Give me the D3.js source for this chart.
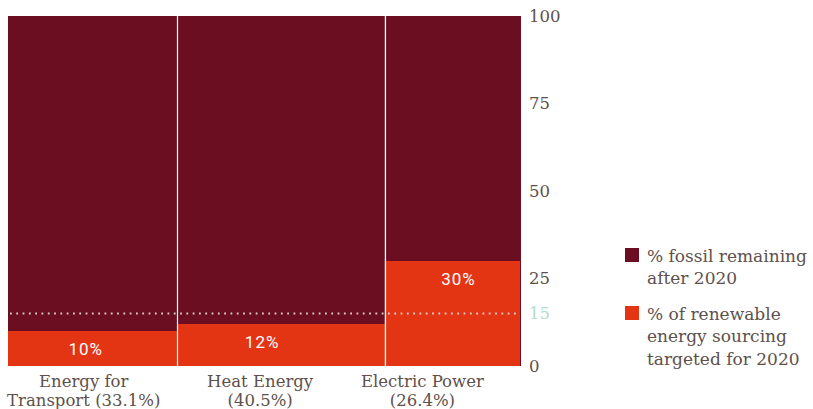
<!DOCTYPE html>
<html><head><meta charset="utf-8">
<script src="https://cdn.jsdelivr.net/npm/d3@7"></script>
<style>
html,body{margin:0;padding:0;background:#fff;}
svg{display:block;}
</style></head>
<body>
<script>
// ---- data ----
const categories = ["Energy for|Transport (33.1%)", "Heat Energy|(40.5%)", "Electric Power|(26.4%)"];
const shares = [33.1, 40.5, 26.4];          // column widths (% of total energy)
const renewable = [10, 12, 30];             // % renewable targeted for 2020
const fossil = [90, 88, 70];                // % fossil remaining after 2020
const valueLabels = ["10%", "12%", "30%"];
const yTicks = [0, 25, 50, 75, 100];
const targetLine = 15;
const legendLabels = [["% fossil remaining", "after 2020"], ["% of renewable", "energy sourcing", "targeted for 2020"]];

// ---- style / layout ----
const W = 813, H = 409;
const mLeft = 8, mRight = 520, mTop = 16, mBottom = 366;
const cDark = "#6b0e21", cOrange = "#e33414", cText = "#5e504b", cTeal = "#b2dcd0";
const catShift = [-9, -21, -30];
const valShift = [-7, -19, 6];
const serif = "'DejaVu Serif', serif";

const svg = d3.select("body").append("svg").attr("width", W).attr("height", H);

const x = d3.scaleLinear().domain([0, d3.sum(shares)]).range([mLeft, mRight]);
const y = d3.scaleLinear().domain([0, 100]).range([mBottom, mTop]);

const cum = [];
shares.reduce((a, s, i) => { cum[i] = a; return a + s; }, 0);
const cols = shares.map((s, i) => ({ x0: cum[i], x1: cum[i] + s, ren: renewable[i], fos: fossil[i], lab: valueLabels[i], cat: categories[i], i }));

const g = svg.append("g");
g.selectAll("rect.fos").data(cols).enter().append("rect")
  .attr("x", d => x(d.x0)).attr("width", d => x(d.x1) - x(d.x0))
  .attr("y", d => y(d.ren + d.fos)).attr("height", d => y(d.ren) - y(d.ren + d.fos))
  .attr("fill", cDark);
g.selectAll("rect.ren").data(cols).enter().append("rect")
  .attr("x", d => x(d.x0)).attr("width", d => x(d.x1) - x(d.x0))
  .attr("y", d => y(d.ren)).attr("height", d => y(0) - y(d.ren))
  .attr("fill", cOrange);
g.selectAll("line.sep").data(cols.slice(1)).enter().append("line")
  .attr("x1", d => Math.round(x(d.x0)) + 0.5).attr("x2", d => Math.round(x(d.x0)) + 0.5)
  .attr("y1", y(100)).attr("y2", y(0))
  .attr("stroke", "#fff").attr("stroke-width", 1.2);
g.append("line").attr("x1", mRight + 0.5).attr("x2", mRight + 0.5).attr("y1", y(100)).attr("y2", y(0))
  .attr("stroke", cDark).attr("stroke-width", 1);
g.append("line").attr("x1", mLeft + 2).attr("x2", mRight - 1).attr("y1", y(targetLine)).attr("y2", y(targetLine))
  .attr("stroke", "#d8c8c8").attr("stroke-width", 2).attr("stroke-dasharray", "1.8,4.5");

g.selectAll("text.val").data(cols).enter().append("text")
  .attr("x", d => (x(d.x0) + x(d.x1)) / 2 + valShift[d.i])
  .attr("y", d => y(d.ren) + 23.5)
  .attr("text-anchor", "middle").attr("fill", "#fff")
  .attr("font-family", "Roboto, sans-serif").attr("font-size", 17).attr("letter-spacing", 1)
  .text(d => d.lab);

const cat = g.selectAll("text.cat").data(cols).enter().append("text")
  .attr("text-anchor", "middle").attr("fill", cText)
  .attr("font-family", serif).attr("font-size", 16.5);
cat.selectAll("tspan").data(d => d.cat.split("|").map(t => ({ t, x: (x(d.x0) + x(d.x1)) / 2 + catShift[d.i] })))
  .enter().append("tspan")
  .attr("x", d => d.x).attr("y", (d, j) => 387 + j * 18.5).text(d => d.t);

const axis = d3.axisRight(y).tickValues(yTicks.concat([targetLine])).tickSize(0).tickPadding(9);
const ax = svg.append("g").attr("transform", `translate(${mRight},0)`).call(axis);
ax.select(".domain").remove();
ax.selectAll("text").attr("font-family", serif).attr("font-size", 16.5)
  .attr("fill", d => d === targetLine ? cTeal : cText);

const colors = [cDark, cOrange];
const legTop = [248, 306];
const lg = svg.append("g");
legendLabels.forEach((lines, k) => {
  lg.append("rect").attr("x", 625).attr("y", legTop[k]).attr("width", 14).attr("height", 14).attr("fill", colors[k]);
  const t = lg.append("text").attr("font-family", serif).attr("font-size", 17).attr("fill", cText);
  lines.forEach((s, j) => t.append("tspan").attr("x", 647).attr("y", legTop[k] + 13.5 + j * 22.7).text(s));
});
</script>
</body></html>
